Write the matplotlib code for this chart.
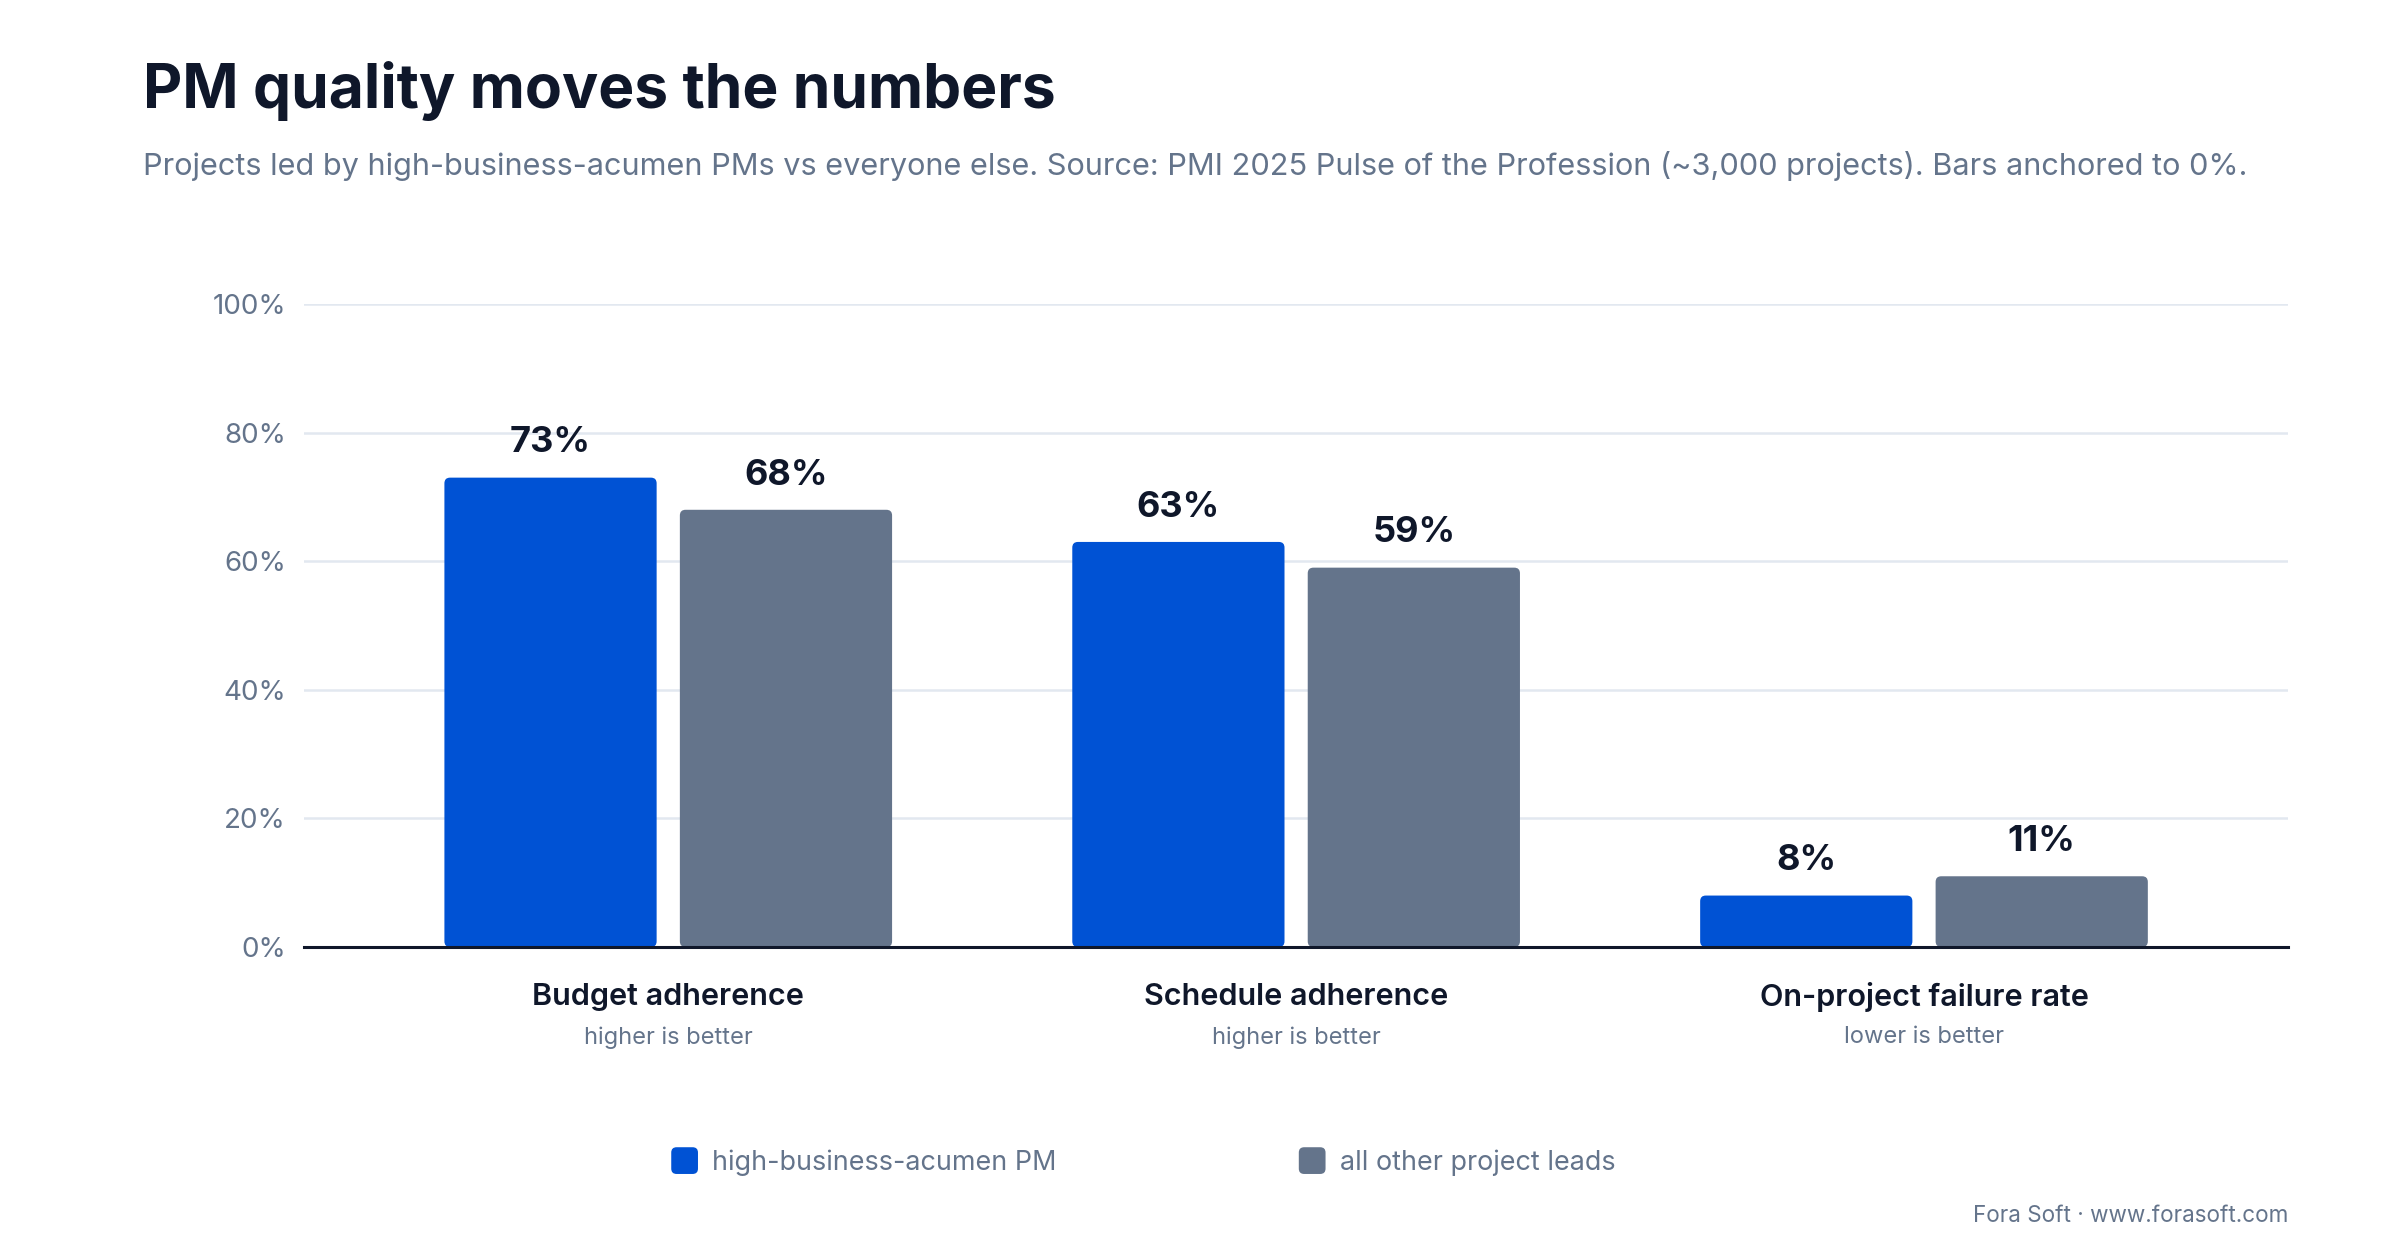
import matplotlib.pyplot as plt
from matplotlib.patches import FancyBboxPatch, Patch
from matplotlib.legend_handler import HandlerPatch
import numpy as np

plt.rcParams['font.family'] = ['Inter', 'DejaVu Sans']

categories = ['Budget adherence', 'Schedule adherence', 'On-project failure rate']
hints = ['higher is better', 'higher is better', 'lower is better']
high_pm = [73, 63, 8]
other_leads = [68, 59, 11]
series_names = ['high-business-acumen PM', 'all other project leads']
y_ticks = [0, 20, 40, 60, 80, 100]

BLUE = '#0052d4'
GRAY = '#64748b'
INK = '#0f172a'
MUTED = '#64748b'
GRID = '#e2e8f0'


def round_bars(ax, bars, color):
    # swap plain rectangles for rounded ones at the same spot
    for b in bars:
        x, y = b.get_x(), b.get_y()
        w, h = b.get_width(), b.get_height()
        b.remove()
        p = FancyBboxPatch((x, y), w, h,
                           boxstyle='round,pad=0,rounding_size=0.009',
                           mutation_aspect=98, linewidth=0,
                           facecolor=color, zorder=3)
        ax.add_patch(p)


class RoundSquare(HandlerPatch):
    def create_artists(self, legend, orig, xd, yd, width, height, fontsize, trans):
        s = min(width, height)
        # nudge down so the square sits level with the label text
        y0 = yd + (height - s) / 2 - 0.3 * fontsize
        p = FancyBboxPatch((xd + (width - s) / 2, y0), s, s,
                           boxstyle='round,pad=0,rounding_size=%f' % (s * 0.2),
                           facecolor=orig.get_facecolor(), linewidth=0,
                           transform=trans)
        return [p]


fig = plt.figure(figsize=(12, 6.2), dpi=200)
ax = fig.add_axes([0.1267, 0.2363, 0.8267, 0.5185])

x = np.arange(len(categories))
w = 0.338
off = 0.1875
b1 = ax.bar(x - off, high_pm, w, color=BLUE, label=series_names[0])
b2 = ax.bar(x + off, other_leads, w, color=GRAY, label=series_names[1])

for bars, vals in ((b1, high_pm), (b2, other_leads)):
    for b, v in zip(bars, vals):
        ax.annotate(f'{v}%', (b.get_x() + b.get_width() / 2, v),
                    xytext=(0, 12.5), textcoords='offset points',
                    ha='center', va='center', fontsize=13,
                    fontweight='bold', color=INK)

round_bars(ax, b1, BLUE)
round_bars(ax, b2, GRAY)

ax.set_xlim(-0.58, 2.58)
ax.set_ylim(0, 100)
ax.set_yticks(y_ticks)
ax.set_yticklabels([f'{t}%' for t in y_ticks])
ax.set_xticks([])
ax.tick_params(axis='y', length=0, pad=6.5, labelsize=10, labelcolor=MUTED)
ax.grid(axis='y', color=GRID, linewidth=0.9, zorder=0)
ax.set_axisbelow(True)
for s in ['top', 'right', 'left']:
    ax.spines[s].set_visible(False)
ax.spines['bottom'].set_color(INK)
ax.spines['bottom'].set_linewidth(1.1)
ax.spines['bottom'].set_zorder(4)

for i, (cat, hint) in enumerate(zip(categories, hints)):
    ax.annotate(cat, (x[i], 0), xycoords=('data', 'axes fraction'),
                xytext=(0, -18), textcoords='offset points',
                ha='center', va='center', fontsize=11, fontweight='semibold',
                color=INK)
    ax.annotate(hint, (x[i], 0), xycoords=('data', 'axes fraction'),
                xytext=(0, -32.5), textcoords='offset points',
                ha='center', va='center', fontsize=8.5, color=MUTED)

fig.text(0.0596, 0.913, 'PM quality moves the numbers', fontsize=21.8,
         fontweight='bold', color=INK, va='baseline')
fig.text(0.0596, 0.859,
         'Projects led by high-business-acumen PMs vs everyone else. '
         'Source: PMI 2025 Pulse of the Profession (~3,000 projects). '
         'Bars anchored to 0%.',
         fontsize=11.05, color=MUTED, va='baseline')
fig.text(0.9533, 0.019, 'Fora Soft \u00b7 www.forasoft.com', fontsize=8.1,
         color=MUTED, ha='right', va='center')

leg_handles = [Patch(facecolor=c) for c in (BLUE, GRAY)]
fig.legend(leg_handles, series_names, loc='center', ncol=2,
           bbox_to_anchor=(0.476, 0.063), frameon=False,
           fontsize=9.7, labelcolor=MUTED, handlelength=1.15,
           handleheight=1.15, handletextpad=0.46, columnspacing=8.9,
           handler_map={Patch: RoundSquare()})

fig.savefig('out.png', dpi=200, facecolor='white')
